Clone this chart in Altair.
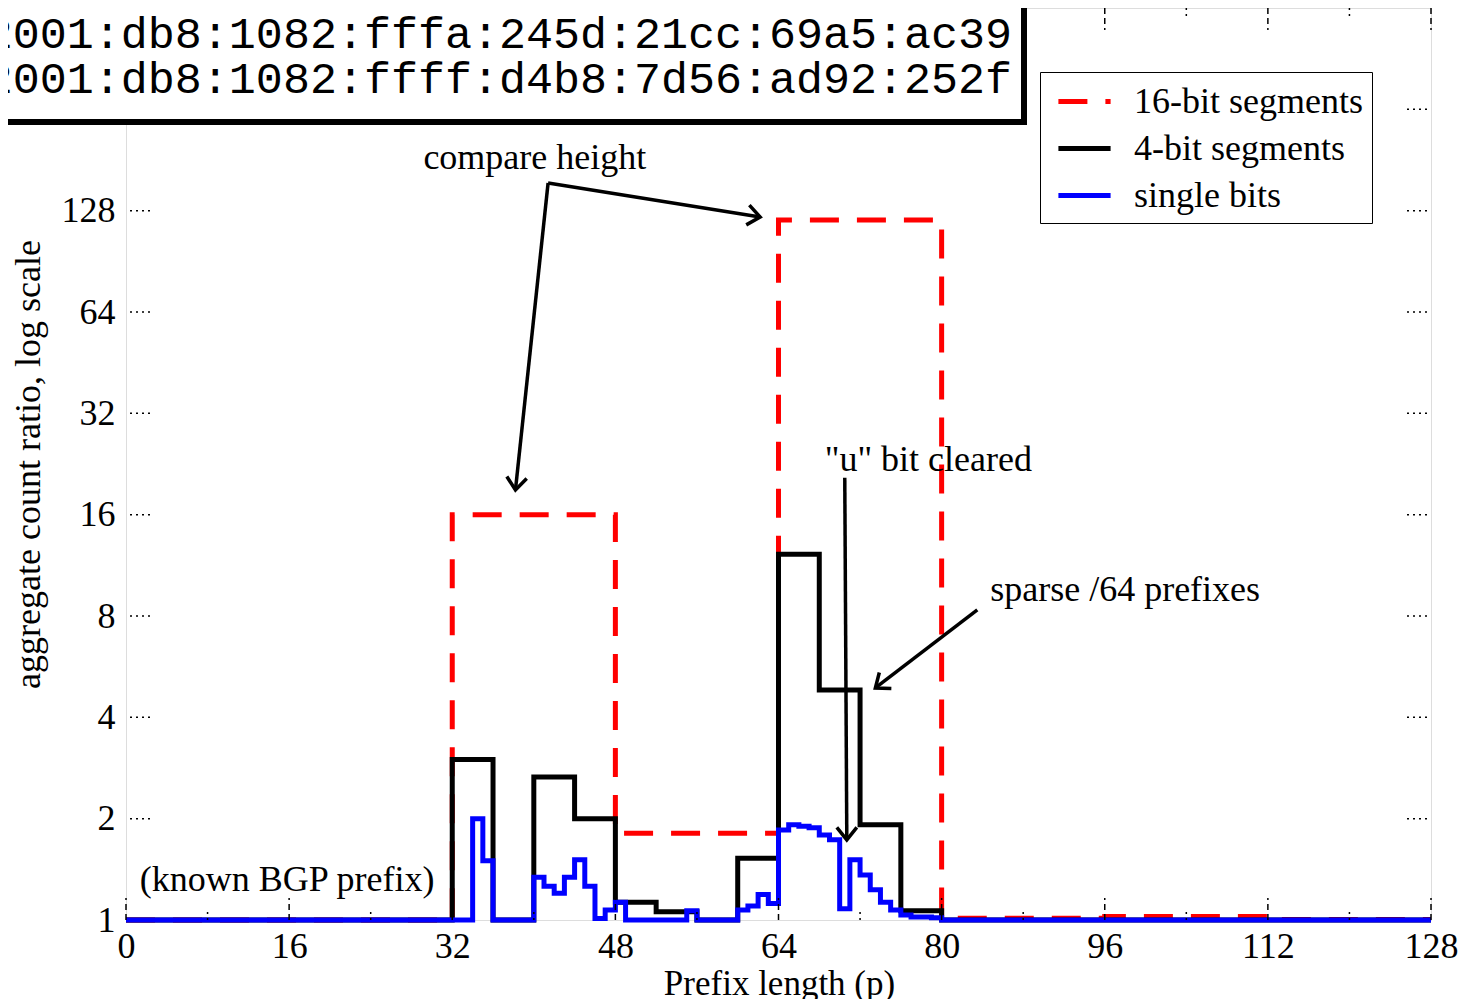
import altair as alt
import pandas as pd

# ---------------- data ----------------
series_names = ["16-bit segments", "4-bit segments", "single bits"]
series_colors = ["#ff0000", "#000000", "#0000ff"]

# 16-bit segments: start of each segment and its value (last = end point)
seg16_start = [0, 32, 48, 64, 80, 96, 112, 128]
seg16_value = [1.0, 16.0, 1.81, 120.0, 1.012, 1.025, 1.004, 1.004]

# 4-bit segments
seg4_start = [0, 32, 36, 40, 44, 48, 52, 56, 60, 64, 68, 72, 76, 80, 128]
seg4_value = [1.0, 3.0, 1.0, 2.66, 2.0, 1.13, 1.058, 1.0, 1.525, 12.2, 4.82, 1.92, 1.065, 1.0, 1.0]

# single bits: value for each prefix length 0..127
bits_000_015 = [1.0, 1.0, 1.0, 1.0, 1.0, 1.0, 1.0, 1.0, 1.0, 1.0, 1.0, 1.0, 1.0, 1.0, 1.0, 1.0]
bits_016_031 = [1.0, 1.0, 1.0, 1.0, 1.0, 1.0, 1.0, 1.0, 1.0, 1.0, 1.0, 1.0, 1.0, 1.0, 1.0, 1.0]
bits_032_047 = [1.0, 1.0, 2.0, 1.5, 1.0, 1.0, 1.0, 1.0, 1.34, 1.26, 1.2, 1.34, 1.51, 1.26, 1.01, 1.07]
bits_048_063 = [1.13, 1.0, 1.0, 1.0, 1.0, 1.0, 1.0, 1.065, 1.0, 1.0, 1.0, 1.0, 1.07, 1.10, 1.19, 1.12]
bits_064_079 = [1.85, 1.92, 1.9, 1.88, 1.79, 1.73, 1.08, 1.51, 1.36, 1.23, 1.13, 1.07, 1.035, 1.02, 1.02, 1.015]
bits_080_095 = [1.0, 1.0, 1.0, 1.0, 1.0, 1.0, 1.0, 1.0, 1.0, 1.0, 1.0, 1.0, 1.0, 1.0, 1.0, 1.0]
bits_096_111 = [1.0, 1.0, 1.0, 1.0, 1.0, 1.0, 1.0, 1.0, 1.0, 1.0, 1.0, 1.0, 1.0, 1.0, 1.0, 1.0]
bits_112_127 = [1.0, 1.0, 1.0, 1.0, 1.0, 1.0, 1.0, 1.0, 1.0, 1.0, 1.0, 1.0, 1.0, 1.0, 1.0, 1.0]

x_tick_values = [0, 16, 32, 48, 64, 80, 96, 112, 128]
x_minor_values = [8, 24, 40, 56, 72, 88, 104, 120]
y_label_values = [1, 2, 4, 8, 16, 32, 64, 128]
y_tick_values = [2, 4, 8, 16, 32, 64, 128, 256]

address_1 = "2001:db8:1082:fffa:245d:21cc:69a5:ac39"
address_2 = "2001:db8:1082:ffff:d4b8:7d56:ad92:252f"

# annotations (data coordinates)
note_text = ["compare height", "\"u\" bit cleared", "sparse /64 prefixes", "(known BGP prefix)"]
note_x = [40.1, 78.7, 98.0, 15.8]
note_y = [184.0, 23.3, 9.56, 1.315]

arrow_x1 = [41.4, 41.4, 70.5, 83.5]
arrow_y1 = [154.7, 154.7, 20.6, 8.34]
arrow_x2 = [38.2, 62.2, 70.7, 73.5]
arrow_y2 = [18.95, 122.6, 1.73, 4.89]
arrow_angle = [186, 99, 180, 233]

# ---------------- build tables ----------------
single_bits = (bits_000_015 + bits_016_031 + bits_032_047 + bits_048_063 +
               bits_064_079 + bits_080_095 + bits_096_111 + bits_112_127)

rows = []
for i, (a, v) in enumerate(zip(seg16_start, seg16_value)):
    rows.append({"series": series_names[0], "x": a, "y": v, "i": i})
for i, (a, v) in enumerate(zip(seg4_start, seg4_value)):
    rows.append({"series": series_names[1], "x": a, "y": v, "i": i})
for i, v in enumerate(single_bits):
    rows.append({"series": series_names[2], "x": i, "y": v, "i": i})
rows.append({"series": series_names[2], "x": 128, "y": single_bits[-1], "i": 128})
df = pd.DataFrame(rows)

notes = pd.DataFrame({"x": note_x, "y": note_y, "t": note_text})
arrows = pd.DataFrame({"x": arrow_x1, "y": arrow_y1, "x2": arrow_x2, "y2": arrow_y2,
                       "ang": arrow_angle})

W, H = 1305, 912
SERIF = "Liberation Serif"

xs = alt.Scale(domain=[0, 128], nice=False, zero=False)
ys = alt.Scale(type="log", base=2, domain=[1, 512], nice=False)

x_axis = alt.Axis(values=x_tick_values, format="d", ticks=False, domain=False, grid=False,
                  labelFontSize=36, labelFont=SERIF, labelPadding=9, labelColor="black",
                  labelFlush=False, labelOverlap=False,
                  title="Prefix length (p)", titleFontSize=35, titleFont=SERIF,
                  titleFontWeight="normal", titleColor="black",
                  titleX=653, titleY=63, titleBaseline="middle", titleAlign="center")
y_axis = alt.Axis(values=y_label_values, format="d", ticks=False, domain=False, grid=False,
                  labelFontSize=36, labelFont=SERIF, labelPadding=11, labelColor="black",
                  labelFlush=False, labelOverlap=False,
                  title="aggregate count ratio, log scale", titleFontSize=36, titleFont=SERIF,
                  titleFontWeight="normal", titleColor="black", titleAngle=270,
                  titleX=-98, titleY=456, titleBaseline="middle", titleAlign="center")

X = alt.X("x:Q", scale=xs, axis=x_axis)
Y = alt.Y("y:Q", scale=ys, axis=y_axis)

legend = alt.Legend(title=None, orient="none", legendX=914, legendY=64,
                    symbolType="M-1.45,0H1.45", symbolSize=1296, symbolStrokeWidth=5,
                    symbolOffset=15, symbolFillColor="transparent",
                    labelFontSize=36, labelFont=SERIF, labelColor="black", labelOffset=29,
                    labelLimit=0, padding=9, rowPadding=8,
                    strokeColor="black", fillColor="white")
color = alt.Color("series:N", scale=alt.Scale(domain=series_names, range=series_colors),
                  legend=legend)
dash = alt.StrokeDash("series:N",
                      scale=alt.Scale(domain=series_names, range=[[29, 18], [1, 0], [1, 0]]),
                      legend=legend)

lines = []
for name in series_names:
    lines.append(
        alt.Chart(df).transform_filter(alt.datum.series == name)
        .mark_line(interpolate="step-after", strokeWidth=5, clip=False)
        .encode(x=X, y=Y, color=color, strokeDash=dash, order="i:Q")
    )

# inward tick marks
ticks_df = pd.DataFrame({"y": y_tick_values})
xt_df = pd.DataFrame({"x": x_tick_values})
xm_df = pd.DataFrame({"x": x_minor_values})
left_ticks = alt.Chart(ticks_df).mark_rule(color="black", strokeWidth=1.5, strokeDash=[2, 4]).encode(
    y=Y, x=alt.value(4), x2=alt.value(26))
right_ticks = alt.Chart(ticks_df).mark_rule(color="black", strokeWidth=1.5, strokeDash=[2, 4]).encode(
    y=Y, x=alt.value(W - 24), x2=alt.value(W - 2))
bottom_ticks = alt.Chart(xt_df).mark_rule(color="black", strokeWidth=1.5, strokeDash=[6, 4]).encode(
    x=X, y=alt.value(H), y2=alt.value(H - 22))
top_ticks = alt.Chart(xt_df).mark_rule(color="black", strokeWidth=1.5, strokeDash=[6, 4]).encode(
    x=X, y=alt.value(0), y2=alt.value(22))
bottom_minor = alt.Chart(xm_df).mark_rule(color="black", strokeWidth=1.5, strokeDash=[2, 4]).encode(
    x=X, y=alt.value(H), y2=alt.value(H - 9))
top_minor = alt.Chart(xm_df).mark_rule(color="black", strokeWidth=1.5, strokeDash=[2, 4]).encode(
    x=X, y=alt.value(0), y2=alt.value(9))

# annotations
note_layer = alt.Chart(notes).mark_text(font=SERIF, fontSize=36, color="black",
                                        align="center", baseline="middle").encode(
    x=X, y=Y, text="t:N")
arrow_lines = alt.Chart(arrows).mark_rule(color="black", strokeWidth=3.5).encode(
    x=X, y=Y, x2="x2:Q", y2="y2:Q")
arrow_heads = alt.Chart(arrows).mark_point(shape="M-0.8,1L0,0L0.8,1", filled=False,
                                           stroke="black", strokeWidth=3.5, size=625,
                                           opacity=1).encode(
    x=alt.X("x2:Q", scale=xs, axis=x_axis), y=alt.Y("y2:Q", scale=ys, axis=y_axis),
    angle=alt.Angle("ang:Q", scale=None))

# address box (top-left, cut by page edge)
one = alt.Data(values=[{"k": 1}])
box_shadow = alt.Chart(one).mark_rect(color="black").encode(
    x=alt.value(-140), x2=alt.value(901), y=alt.value(-30), y2=alt.value(117))
box = alt.Chart(one).mark_rect(fill="white", stroke="black", strokeWidth=2).encode(
    x=alt.value(-140), x2=alt.value(896), y=alt.value(-30), y2=alt.value(112))
addr_text_1 = alt.Chart(one).mark_text(font="Liberation Mono", fontSize=45, color="black",
                                       align="right", baseline="middle").encode(
    x=alt.value(886), y=alt.value(26), text=alt.value(address_1))
addr_text_2 = alt.Chart(one).mark_text(font="Liberation Mono", fontSize=45, color="black",
                                       align="right", baseline="middle").encode(
    x=alt.value(886), y=alt.value(71), text=alt.value(address_2))

chart = alt.layer(
    *lines, left_ticks, right_ticks, bottom_ticks, top_ticks, bottom_minor, top_minor,
    note_layer, arrow_lines, arrow_heads, box_shadow, box, addr_text_1, addr_text_2
).properties(
    width=W, height=H,
    autosize=alt.AutoSizeParams(type="none"),
    padding={"left": 118, "top": 0, "right": 27, "bottom": 79},
).configure_view(stroke="black", strokeWidth=2.5).configure(font=SERIF)

chart.save("out.html", embed_options={"renderer": "svg", "actions": False})
